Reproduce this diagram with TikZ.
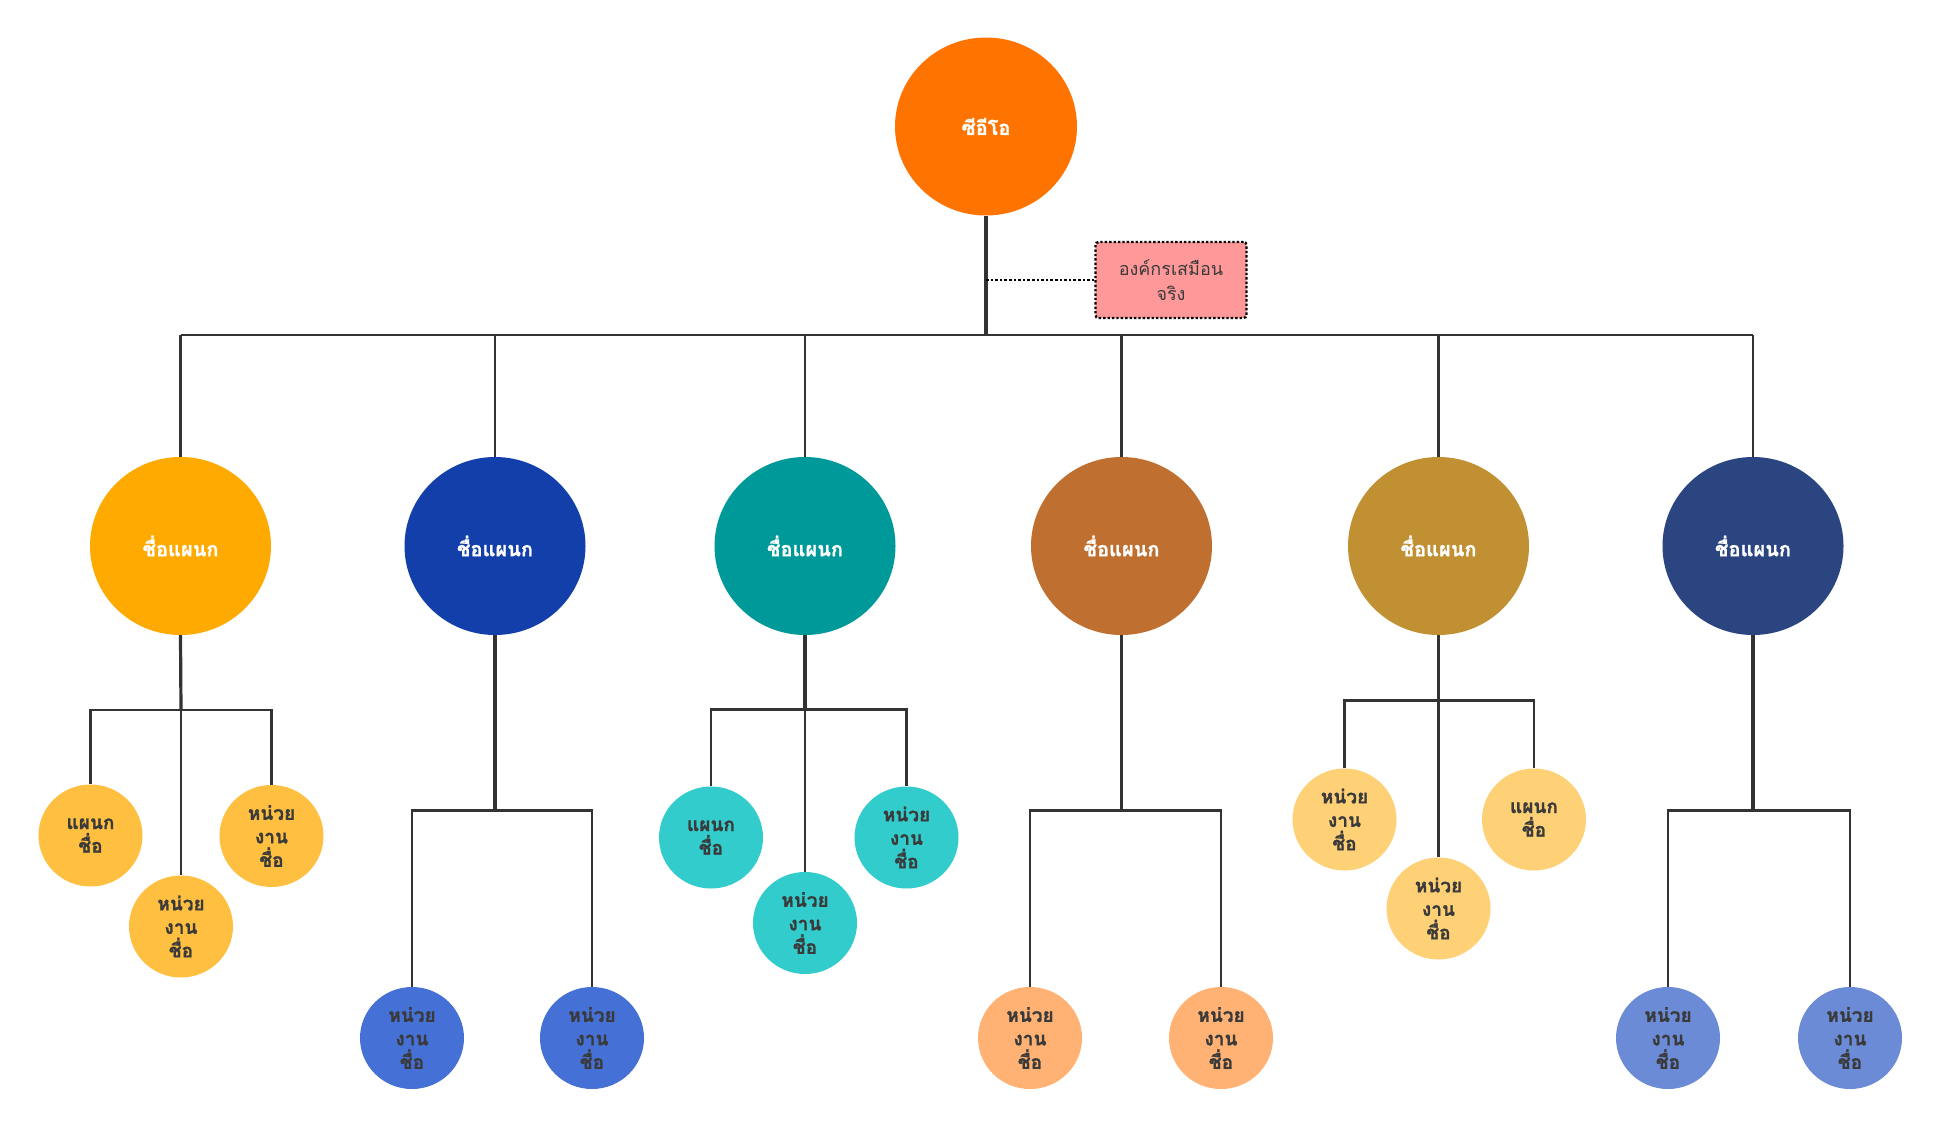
\documentclass[tikz,border=0pt]{standalone}
\usepackage{fontspec}
\newfontfamily\thaifont[Script=Thai, BoldFeatures={FakeBold=1.2}]{Loma}
\usetikzlibrary{shapes.geometric}
\definecolor{ceoC}{HTML}{FF7300}
\definecolor{dA}{HTML}{FFAA00}
\definecolor{dB}{HTML}{123FAA}
\definecolor{dC}{HTML}{009999}
\definecolor{dD}{HTML}{BF7030}
\definecolor{dE}{HTML}{C19033}
\definecolor{dF}{HTML}{2A4580}
\definecolor{cA}{HTML}{FFBF40}
\definecolor{cB}{HTML}{4570D6}
\definecolor{cC}{HTML}{33CCCC}
\definecolor{cD}{HTML}{FFB273}
\definecolor{cE}{HTML}{FFD176}
\definecolor{cF}{HTML}{6B8BD6}
\definecolor{lineC}{HTML}{333333}
\definecolor{txtC}{HTML}{3A3A3A}
\definecolor{boxC}{HTML}{FF9999}
\tikzset{
  ceonode/.style={ellipse, fill=ceoC, minimum width=182pt, minimum height=178pt, inner sep=0pt,
    text=white, font=\thaifont\bfseries\fontsize{20}{24}\selectfont},
  deptnode/.style={ellipse, fill=#1, minimum width=181pt, minimum height=178pt, inner sep=0pt,
    text=white, font=\thaifont\bfseries\fontsize{20}{24}\selectfont},
  unitnode/.style={ellipse, fill=#1, minimum width=104pt, minimum height=102pt, inner sep=0pt,
    text=txtC, align=center, font=\thaifont\bfseries\fontsize{19}{23.5}\selectfont},
  notebox/.style={rectangle, rounded corners=3pt, fill=boxC, draw=black, dotted, line width=2.4pt,
    minimum width=151pt, minimum height=76pt, align=center, text=txtC,
    font=\thaifont\fontsize{18}{25}\selectfont},
  trunk/.style={draw=lineC, line width=3.2pt},
  link/.style={draw=lineC, line width=2.5pt},
}
\begin{document}
\begin{tikzpicture}[x=1pt, y=-1pt]
\useasboundingbox (0,0) rectangle (1939,1127);
\fill[white] (0,0) rectangle (1939,1127);

% CEO
\node[ceonode] (ceo) at (986,126.5) {ซีอีโอ};
\node[notebox] (box) at (1171,280) {องค์กรเสมือน\\จริง};

% departments
\node[deptnode=dA] (d1) at (180.5,546) {ชื่อแผนก};
\node[deptnode=dB] (d2) at (495,546) {ชื่อแผนก};
\node[deptnode=dC] (d3) at (805,546) {ชื่อแผนก};
\node[deptnode=dD] (d4) at (1121.5,546) {ชื่อแผนก};
\node[deptnode=dE] (d5) at (1438.5,546) {ชื่อแผนก};
\node[deptnode=dF] (d6) at (1753,546) {ชื่อแผนก};

% units dept 1
\node[unitnode=cA] (u1a) at (90.5,835.5) {แผนก\\ชื่อ};
\node[unitnode=cA] (u1b) at (181,926.5) {หน่วย\\งาน\\ชื่อ};
\node[unitnode=cA] (u1c) at (271.5,836) {หน่วย\\งาน\\ชื่อ};
% units dept 2
\node[unitnode=cB] (u2a) at (412,1038) {หน่วย\\งาน\\ชื่อ};
\node[unitnode=cB] (u2b) at (592,1038) {หน่วย\\งาน\\ชื่อ};
% units dept 3
\node[unitnode=cC] (u3a) at (711,837.5) {แผนก\\ชื่อ};
\node[unitnode=cC] (u3b) at (805,923) {หน่วย\\งาน\\ชื่อ};
\node[unitnode=cC] (u3c) at (906.5,837.5) {หน่วย\\งาน\\ชื่อ};
% units dept 4
\node[unitnode=cD] (u4a) at (1030,1038) {หน่วย\\งาน\\ชื่อ};
\node[unitnode=cD] (u4b) at (1221,1038) {หน่วย\\งาน\\ชื่อ};
% units dept 5
\node[unitnode=cE] (u5a) at (1344.5,819.5) {หน่วย\\งาน\\ชื่อ};
\node[unitnode=cE] (u5b) at (1438.5,908.5) {หน่วย\\งาน\\ชื่อ};
\node[unitnode=cE] (u5c) at (1534,819.5) {แผนก\\ชื่อ};
% units dept 6
\node[unitnode=cF] (u6a) at (1668,1038) {หน่วย\\งาน\\ชื่อ};
\node[unitnode=cF] (u6b) at (1850,1038) {หน่วย\\งาน\\ชื่อ};

% main bus
\coordinate (bus) at (986,335);
\draw[trunk] (ceo.south) -- (bus);
\draw[link] (bus -| d1) -- (bus -| d6);
\foreach \d in {d1,d2,d3,d4,d5,d6} {
  \draw[link] (bus -| \d) -- (\d.north);
}
\draw[black, dotted, line width=2.6pt] (box.west) -- (box.west -| ceo);

% dept 1 branch
\coordinate (b1) at (181,710);
\draw[trunk] (d1.south) -- (b1);
\draw[link] (b1) -- (u1b.north);
\draw[link] (u1a.north) -- (u1a.north |- b1) -- (u1c.north |- b1) -- (u1c.north);
% dept 2 branch
\coordinate (b2) at (495,810.5);
\draw[trunk] (d2.south) -- (b2);
\draw[link] (u2a.north) -- (u2a.north |- b2) -- (u2b.north |- b2) -- (u2b.north);
% dept 3 branch
\coordinate (b3) at (805,709.5);
\draw[trunk] (d3.south) -- (b3);
\draw[link] (b3) -- (u3b.north);
\draw[link] (u3a.north) -- (u3a.north |- b3) -- (u3c.north |- b3) -- (u3c.north);
% dept 4 branch
\coordinate (b4) at (1121.5,810.5);
\draw[trunk] (d4.south) -- (b4);
\draw[link] (u4a.north) -- (u4a.north |- b4) -- (u4b.north |- b4) -- (u4b.north);
% dept 5 branch
\coordinate (b5) at (1438.5,700.5);
\draw[trunk] (d5.south) -- (b5);
\draw[link] (b5) -- (u5b.north);
\draw[link] (u5a.north) -- (u5a.north |- b5) -- (u5c.north |- b5) -- (u5c.north);
% dept 6 branch
\coordinate (b6) at (1753,810.5);
\draw[trunk] (d6.south) -- (b6);
\draw[link] (u6a.north) -- (u6a.north |- b6) -- (u6b.north |- b6) -- (u6b.north);
\end{tikzpicture}
\end{document}
